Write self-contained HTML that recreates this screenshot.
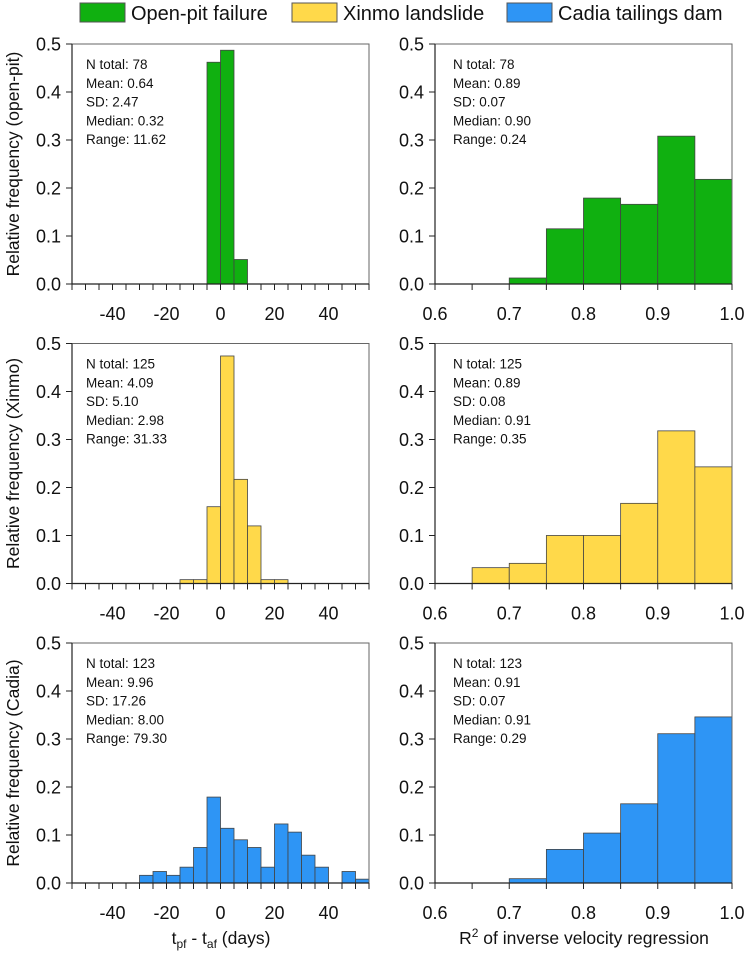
<!DOCTYPE html>
<html><head><meta charset="utf-8"><style>
body{margin:0;background:#fff;}
svg text{font-family:"Liberation Sans",Arial,sans-serif;fill:#111;}
</style></head><body>
<svg id="chart" width="745" height="958" xmlns="http://www.w3.org/2000/svg">
<g>
<rect x="80" y="3" width="45" height="19" fill="#10b010" stroke="#555" stroke-width="1"/>
<text x="131" y="20" font-size="20">Open-pit failure</text>
<rect x="292" y="3" width="45" height="19" fill="#ffd94a" stroke="#555" stroke-width="1"/>
<text x="343" y="20" font-size="20">Xinmo landslide</text>
<rect x="507" y="3" width="45" height="19" fill="#2e95f5" stroke="#555" stroke-width="1"/>
<text x="558" y="20" font-size="20">Cadia tailings dam</text>
</g>
</svg>
<script>
// ---- data ----
const leftBinStarts1 = [-5, 0, 5];
const leftValues1 = [0.462, 0.487, 0.051];
const leftBinStarts2 = [-15, -10, -5, 0, 5, 10, 15, 20];
const leftValues2 = [0.008, 0.008, 0.16, 0.474, 0.217, 0.12, 0.008, 0.008];
const leftBinStarts3 = [-30, -25, -20, -15, -10, -5, 0, 5, 10, 15, 20, 25, 30, 35, 40, 45, 50];
const leftValues3 = [0.016, 0.024, 0.016, 0.033, 0.074, 0.179, 0.114, 0.09, 0.074, 0.033, 0.123, 0.106, 0.058, 0.033, 0, 0.024, 0.008];
const rightBinStarts1 = [0.70, 0.75, 0.80, 0.85, 0.90, 0.95];
const rightValues1 = [0.0125, 0.115, 0.179, 0.166, 0.308, 0.218];
const rightBinStarts2 = [0.65, 0.70, 0.75, 0.80, 0.85, 0.90, 0.95];
const rightValues2 = [0.033, 0.042, 0.1, 0.1, 0.167, 0.318, 0.243];
const rightBinStarts3 = [0.70, 0.75, 0.80, 0.85, 0.90, 0.95];
const rightValues3 = [0.009, 0.07, 0.104, 0.165, 0.311, 0.346];
const yTickLabels = ["0.0", "0.1", "0.2", "0.3", "0.4", "0.5"];
const leftXTickLabels = ["-40", "-20", "0", "20", "40"];
const rightXTickLabels = ["0.6", "0.7", "0.8", "0.9", "1.0"];
const rowNames = ["open-pit", "Xinmo", "Cadia"];
const statsLeft = [
 ["N total: 78","Mean: 0.64","SD: 2.47","Median: 0.32","Range: 11.62"],
 ["N total: 125","Mean: 4.09","SD: 5.10","Median: 2.98","Range: 31.33"],
 ["N total: 123","Mean: 9.96","SD: 17.26","Median: 8.00","Range: 79.30"]];
const statsRight = [
 ["N total: 78","Mean: 0.89","SD: 0.07","Median: 0.90","Range: 0.24"],
 ["N total: 125","Mean: 0.89","SD: 0.08","Median: 0.91","Range: 0.35"],
 ["N total: 123","Mean: 0.91","SD: 0.07","Median: 0.91","Range: 0.29"]];

const colors = ["#10b010", "#ffd94a", "#2e95f5"];
const svg = document.getElementById('chart');
const NS = "http://www.w3.org/2000/svg";
function mk(tag, attrs, parent){const e=document.createElementNS(NS,tag);for(const k in attrs)e.setAttribute(k,attrs[k]);(parent||svg).appendChild(e);return e;}

const rowTops = [44, 343.5, 643];
const H = 240;
const leftX = [72, 369], rightX = [435, 732];
const leftBins = [leftBinStarts1, leftBinStarts2, leftBinStarts3];
const leftVals = [leftValues1, leftValues2, leftValues3];
const rightBins = [rightBinStarts1, rightBinStarts2, rightBinStarts3];
const rightVals = [rightValues1, rightValues2, rightValues3];

function panel(r, side){
  const px = side === 'left' ? leftX : rightX;
  const dom = side === 'left' ? [-55, 55] : [0.6, 1.0];
  const bw = side === 'left' ? 5 : 0.05;
  const top = rowTops[r], bot = top + H;
  const xs = v => px[0] + (v - dom[0]) / (dom[1] - dom[0]) * (px[1] - px[0]);
  const ys = v => bot - v / 0.5 * H;
  const g = mk('g', {});
  
  
  const bins = side === 'left' ? leftBins[r] : rightBins[r];
  const vals = side === 'left' ? leftVals[r] : rightVals[r];
  bins.forEach((b, i) => {
    if (vals[i] <= 0) return;
    const x0 = xs(b), x1 = xs(b + bw), y = ys(vals[i]);
    const rect = mk('rect', {x: x0, y: y, width: x1 - x0, height: bot - y, fill: colors[r], stroke: '#444', 'stroke-width': 0.8}, g);
    
    
  });
  // frame
  const fr = mk('rect', {x: px[0], y: top, width: px[1] - px[0], height: H, fill: 'none', stroke: '#666', 'stroke-width': 1}, g);
  
  
  mk('line', {x1: px[0], y1: top, x2: px[0], y2: bot, stroke: '#222', 'stroke-width': 1.2}, g);
  mk('line', {x1: px[0], y1: bot, x2: px[1], y2: bot, stroke: '#222', 'stroke-width': 1.2}, g);
  // y ticks
  yTickLabels.forEach((lab, i) => {
    const v = parseFloat(lab), y = ys(v);
    mk('line', {x1: px[0] - 6, y1: y, x2: px[0], y2: y, stroke: '#222', 'stroke-width': 1}, g);
    const t = mk('text', {x: px[0] - 11, y: y + 6.5, 'font-size': 18, 'text-anchor': 'end'}, g);
    t.textContent = lab;
    
    
  });
  // x ticks
  for (let v = dom[0]; v <= dom[1] + 1e-9; v += bw) {
    const x = xs(v);
    mk('line', {x1: x, y1: bot, x2: x, y2: bot + 6, stroke: '#222', 'stroke-width': 1}, g);
  }
  const xl = side === 'left' ? leftXTickLabels : rightXTickLabels;
  xl.forEach(lab => {
    const t = mk('text', {x: xs(parseFloat(lab)), y: bot + 36, 'font-size': 18, 'text-anchor': 'middle'}, g);
    t.textContent = lab;
    
    
  });
  // stats
  const st = side === 'left' ? statsLeft[r] : statsRight[r];
  const sx = side === 'left' ? 86 : 453;
  st.forEach((s, i) => {
    const t = mk('text', {x: sx, y: top + 25 + i * 18.8, 'font-size': 13.5}, g);
    t.textContent = s;
    
    
  });
  if (side === 'left') {
    const cy = top + H / 2;
    const t = mk('text', {x: 0, y: 0, 'font-size': 17.5, 'text-anchor': 'middle', transform: 'translate(19,' + cy + ') rotate(-90)'}, g);
    t.textContent = 'Relative frequency (' + rowNames[r] + ')';
    
    
  }
}
for (let r = 0; r < 3; r++) { panel(r, 'left'); panel(r, 'right'); }

const xt1 = mk('text', {x: 221, y: 944, 'font-size': 17.5, 'text-anchor': 'middle'});
xt1.innerHTML = 't<tspan font-size="12" dy="4">pf</tspan><tspan dy="-4"> - t</tspan><tspan font-size="12" dy="4">af</tspan><tspan dy="-4"> (days)</tspan>';


const xt2 = mk('text', {x: 584, y: 944, 'font-size': 17.5, 'text-anchor': 'middle'});
xt2.innerHTML = 'R<tspan font-size="12" dy="-7">2</tspan><tspan dy="7"> of inverse velocity regression</tspan>';


</script>
</body></html>
